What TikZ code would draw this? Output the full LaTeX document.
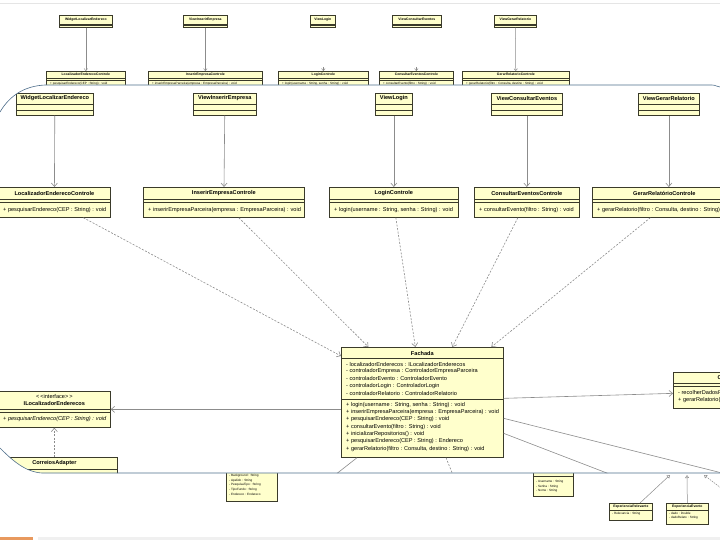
\documentclass[tikz,border=0pt]{standalone}
\usepackage{fontspec}
\setmainfont{Liberation Sans}
\usepackage{xcolor}
\usetikzlibrary{arrows.meta}

\definecolor{boxfill}{HTML}{FFFFCC}
\definecolor{boxline}{HTML}{3A3A2A}
\definecolor{lensline}{HTML}{4F6F8C}
\definecolor{linkgray}{HTML}{8C8C8C}
\definecolor{barorange}{HTML}{E8995E}

% class box: name, x, y (top left), width, height
\newcommand{\classnode}[5]{\node[classbox, minimum width=#4pt, minimum height=#5pt] (#1) at (#2,#3) {};}
% compartment line: name, distance from top
\newcommand{\classsep}[2]{\draw[sepline] ([yshift=-#2pt]#1.north west) -- ([yshift=-#2pt]#1.north east);}
\newcommand{\lensshape}{(0,112) .. controls (10,95) and (25,86) .. (45,85) -- (712,85) .. controls (716,85) and (717,87) .. (720,87) -- (720,473) -- (42,473) .. controls (25,472) and (12,460) .. (0,448) -- cycle}

\begin{document}
\begin{tikzpicture}[x=1pt, y=-1pt,
    classbox/.style={draw=boxline, fill=boxfill, line width=0.7pt, anchor=north west, inner sep=0pt},
    sepline/.style={draw=boxline, line width=0.5pt},
    classtitle/.style={font=\bfseries\fontsize{5.6}{6}\selectfont, inner sep=0pt},
    member/.style={font=\fontsize{5.6}{6}\selectfont, anchor=west, inner sep=0pt},
    thumbtitle/.style={font=\bfseries\fontsize{3.4}{4}\selectfont, inner sep=0pt},
    thumbmember/.style={font=\fontsize{3.1}{4}\selectfont, anchor=west, inner sep=0pt},
    link/.style={draw=linkgray, line width=0.6pt},
    assoc/.style={link, -{Straight Barb[length=3.5pt, width=6pt]}},
    depend/.style={assoc, dash pattern=on 2pt off 1.5pt},
    thumblink/.style={draw=linkgray, line width=0.5pt, -{Straight Barb[length=2pt, width=3.5pt]}},
    thumbgen/.style={draw=linkgray, line width=0.5pt, -{Triangle[open, length=3pt, width=4pt]}},
    lens/.style={draw=lensline, line width=0.6pt}]

    \fill[white] (0,0) rectangle (720,540);
    \useasboundingbox (0,0) rectangle (720,540);
    \draw[gray!20] (0,3) -- (720,3);

    % Overview (small diagram outside the lens)
    \foreach \n/\x/\w/\t in {tw1/59/53/WidgetLocalizarEndereco, tw2/183/44/ViewInserirEmpresa,
        tw3/310/25/ViewLogin, tw4/392/49/ViewConsultarEventos, tw5/494/42/ViewGerarRelatorio}{
        \classnode{\n}{\x}{15}{\w}{12}
        \node[thumbtitle] (\n-t) at ([yshift=-4.5pt]\n.north) {\t};
        \classsep{\n}{9}
        \classsep{\n}{10.5}
    }
    \foreach \n/\x/\w/\t/\m in {tc1/46/79/LocalizadorEnderecoControle/{+ pesquisarEndereco(CEP : String) : void},
        tc2/148/114/InserirEmpresaControle/{+ inserirEmpresaParceira(empresa : EmpresaParceira) : void},
        tc3/278/90/LoginControle/{+ login(username : String, senha : String) : void},
        tc4/379/74/ConsultarEventosControle/{+ consultarEvento(filtro : String) : void},
        tc5/462/107/GerarRelatorioControle/{+ gerarRelatorio(filtro : Consulta, destino : String) : void}}{
        \classnode{\n}{\x}{71}{\w}{19}
        \node[thumbtitle] (\n-t) at ([yshift=-3.5pt]\n.north) {\t};
        \classsep{\n}{7}
        \classsep{\n}{9}
        \node[thumbmember] (\n-m) at ([xshift=4pt,yshift=-12.5pt]\n.north west) {\m};
    }
    \draw[thumblink] (tw1) -- (tc1);
    \draw[thumblink] (tw2) -- (tc2);
    \draw[thumblink] ([yshift=4pt]tc3.north) -- (tc3.north);
    \draw[thumblink] ([yshift=4pt]tc4.north) -- (tc4.north);
    \draw[thumblink] (tw5) -- (tc5);

    \classnode{tb1}{226}{455}{51}{46}
    \foreach \r [count=\i] in {- Background : String, - Apelido : String, - PesquisaTipo : String,
        - TipoFundo : String, - Endereco : Endereco}{
        \pgfmathsetmacro\dy{15.9+4.75*\i}
        \node[thumbmember] (tb1-\i) at ([xshift=3pt,yshift=-\dy pt]tb1.north west) {\r};
    }
    \classnode{tb2}{533}{462}{40}{34}
    \node[thumbtitle] (tb2-t) at ([yshift=-9pt]tb2.north) {Usuario};
    \classsep{tb2}{14}
    \foreach \r [count=\i] in {- Username : String, - Senha : String, - Nome : String}{
        \pgfmathsetmacro\dy{15+4.7*\i}
        \node[thumbmember] (tb2-\i) at ([xshift=3pt,yshift=-\dy pt]tb2.north west) {\r};
    }
    \classnode{tb3}{609}{503}{43}{17}
    \node[thumbtitle] (tb3-t) at ([yshift=-3.5pt]tb3.north) {ExperienciaRelevante};
    \classsep{tb3}{7.5}
    \node[thumbmember] (tb3-1) at ([xshift=3pt,yshift=-10.5pt]tb3.north west) {- Relevancia : String};
    \classnode{tb4}{666}{503}{42}{21}
    \node[thumbtitle] (tb4-t) at ([yshift=-3.5pt]tb4.north) {ExperienciaEvento};
    \classsep{tb4}{7.5}
    \node[thumbmember] (tb4-1) at ([xshift=3pt,yshift=-10.5pt]tb4.north west) {- dado : Double};
    \node[thumbmember] (tb4-2) at ([xshift=3pt,yshift=-15pt]tb4.north west) {- dadoRelato : String};

    \coordinate (gen1) at (670,475);
    \coordinate (gen2) at (687,475);
    \coordinate (gen3a) at (721,488);
    \coordinate (gen3) at (704,475);
    \draw[thumbgen] ([xshift=31pt]tb3.north west) -- (gen1);
    \draw[thumbgen] (tb4.north) -- (gen2);
    \draw[thumbgen, dash pattern=on 1.5pt off 1pt] (gen3a) -- (gen3);

    % Lens
    \fill[white] \lensshape;
    \begin{scope}
        \clip \lensshape;

        % Views
        \foreach \n/\x/\w/\t in {vw1/16/77/WidgetLocalizarEndereco, vw2/193/63/ViewInserirEmpresa,
            vw3/375/37/ViewLogin, vw4/491/71/ViewConsultarEventos, vw5/638/61/ViewGerarRelatorio}{
            \classnode{\n}{\x}{93}{\w}{22}
            \node[classtitle] (\n-t) at ([yshift=-5.5pt]\n.north) {\t};
            \classsep{\n}{11}
            \classsep{\n}{17}
        }

        % Controllers
        \foreach \n/\x/\w/\t/\m in {ctl1/-2/112/LocalizadorEnderecoControle/{+ pesquisarEndereco(CEP : String) : void},
            ctl2/143/161/InserirEmpresaControle/{+ inserirEmpresaParceira(empresa : EmpresaParceira) : void},
            ctl3/329/129/LoginControle/{+ login(username : String, senha : String) : void},
            ctl4/474/105/ConsultarEventosControle/{+ consultarEvento(filtro : String) : void},
            ctl5/592/144/GerarRelatórioControle/{+ gerarRelatorio(filtro : Consulta, destino : String) : void}}{
            \classnode{\n}{\x}{187}{\w}{30}
            \node[classtitle] (\n-t) at ([yshift=-6.5pt]\n.north) {\t};
            \classsep{\n}{12}
            \classsep{\n}{15}
            \node[member] (\n-m) at ([xshift=5pt,yshift=-23.5pt]\n.north west) {\m};
        }

        % Fachada
        \classnode{fach}{341}{347}{162}{110}
        \node[classtitle] (fach-t) at ([yshift=-6pt]fach.north) {Fachada};
        \classsep{fach}{11}
        \classsep{fach}{52}
        \foreach \r [count=\i] in {- localizadorEnderecos : ILocalizadorEnderecos,
            - controladorEmpresa : ControladorEmpresaParceira, - controladorEvento : ControladorEvento,
            - controladorLogin : ControladorLogin, - controladorRelatorio : ControladorRelatorio}{
            \pgfmathsetmacro\dy{9.7+7.3*\i}
            \node[member] (fach-a\i) at ([xshift=5pt,yshift=-\dy pt]fach.north west) {\r};
        }
        \foreach \r [count=\i] in {{+ login(username : String, senha : String) : void},
            + inserirEmpresaParceira(empresa : EmpresaParceira) : void,
            + pesquisarEndereco(CEP : String) : void, + consultarEvento(filtro : String) : void,
            + inicializarRepositorios() : void, + pesquisarEndereco(CEP : String) : Endereco,
            {+ gerarRelatorio(filtro : Consulta, destino : String) : void}}{
            \pgfmathsetmacro\dy{50.5+7.3*\i}
            \node[member] (fach-m\i) at ([xshift=5pt,yshift=-\dy pt]fach.north west) {\r};
        }

        % Interface and adapter
        \classnode{ilocal}{-2}{391}{112}{36}
        \node[member, anchor=center] (ilocal-s) at ([yshift=-5.5pt]ilocal.north) {{<}\,{<}interface{>}\,{>}};
        \node[classtitle] (ilocal-t) at ([yshift=-12.5pt]ilocal.north) {ILocalizadorEnderecos};
        \classsep{ilocal}{18}
        \classsep{ilocal}{21}
        \node[member, font=\itshape\fontsize{5.6}{6}\selectfont] (ilocal-m) at ([xshift=5pt,yshift=-28.5pt]ilocal.north west) {+ pesquisarEndereco(CEP : String) : void};

        \classnode{adapter}{-9}{457}{126}{25}
        \node[classtitle] (adapter-t) at ([yshift=-6pt]adapter.north) {CorreiosAdapter};
        \classsep{adapter}{12}

        \classnode{ctlrel}{673}{372}{145}{36}
        \node[classtitle] (ctlrel-t) at ([yshift=-5.5pt]ctlrel.north) {ControladorRelatorio};
        \classsep{ctlrel}{11}
        \classsep{ctlrel}{14}
        \node[member] (ctlrel-m1) at ([xshift=5pt,yshift=-21pt]ctlrel.north west) {- recolherDadosRelatorio() : void};
        \node[member] (ctlrel-m2) at ([xshift=5pt,yshift=-28pt]ctlrel.north west) {+ gerarRelatorio(filtro : Consulta, destino : String) : void};

        % Connectors
        \draw[assoc] (vw1) -- (ctl1);
        \draw[assoc] (vw2) -- (ctl2);
        \draw[assoc] (vw3) -- (ctl3);
        \draw[assoc] (vw4) -- (ctl4);
        \draw[assoc] (vw5.south) -- (vw5.south |- ctl5.north);

        \draw[depend] ([xshift=29pt]ctl1.south) -- ([yshift=-9pt]fach.north west);
        \draw[depend] ([xshift=15pt]ctl2.south) -- ([xshift=-54pt]fach.north);
        \draw[depend] ([xshift=2pt]ctl3.south) -- ([xshift=-7pt]fach.north);
        \draw[depend] ([xshift=-9pt]ctl4.south) -- ([xshift=30pt]fach.north);
        \draw[depend] ([xshift=-14pt]ctl5.south) -- ([xshift=69pt]fach.north);

        \draw[assoc] (fach.west |- ilocal.east) -- (ilocal.east);
        \draw[assoc] ([yshift=4pt]fach.east) -- ([yshift=-3pt]ctlrel.west);
        \draw[depend] (adapter) -- (ilocal);

        \coordinate (out1) at (730,475);
        \coordinate (out2) at (612,475);
        \coordinate (out3) at (335,475);
        \coordinate (out4) at (453,475);
        \draw[link] ([yshift=-16pt]fach.east) -- (out1);
        \draw[link] ([yshift=-31pt]fach.east) -- (out2);
        \draw[link] ([xshift=16pt]fach.south west) -- (out3);
        \draw[link, dash pattern=on 2pt off 1.5pt] ([xshift=105pt]fach.south west) -- (out4);
    \end{scope}
    \draw[lens] (0,112) .. controls (10,95) and (25,86) .. (45,85) -- (712,85) .. controls (716,85) and (717,87) .. (720,87);
    \draw[lens] (0,448) .. controls (12,460) and (25,472) .. (42,473) -- (720,473);

    % Status bar
    \fill[gray!12] (38,537) rectangle (720,540);
    \fill[barorange] (0,537) rectangle (33,540);
\end{tikzpicture}
\end{document}
